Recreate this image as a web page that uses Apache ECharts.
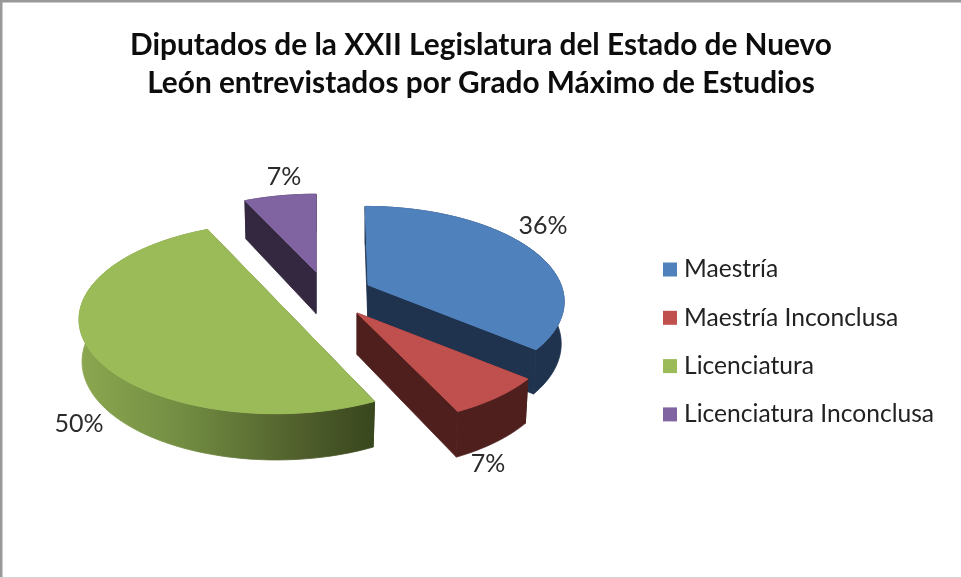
<!DOCTYPE html>
<html>
<head>
<meta charset="utf-8">
<script src="https://cdn.jsdelivr.net/npm/echarts@6/dist/echarts.min.js"></script>
<style>html,body{margin:0;padding:0;background:#fff}#c{width:961px;height:578px}</style>
</head>
<body>
<div id="c"></div>
<script>
const categories = ['Maestría', 'Maestría Inconclusa', 'Licenciatura', 'Licenciatura Inconclusa'];
const values = [36, 7, 50, 7];
const titleLines = ['Diputados de la XXII Legislatura del Estado de Nuevo', 'León entrevistados por Grado Máximo de Estudios'];

const topColors = ['#4F81BD', '#C0504D', '#9BBB59', '#8064A2'];
const wallColors = ['#1F334F', '#4E1F1D', null, '#33283F'];
const apexes = [[368, 285], [357, 313], [279, 303], [316, 272]];
const scales = [0.98, 1, 1, 0.97];
const labelAt = [[543, 226], [488, 464], [79, 424], [284, 177]];

const A = 197, B = 93, P = 0.16, D = 41.5, VX = 316, K = 0.4;
const total = values.reduce((a, b) => a + b, 0);

function project(ax, ay, t, s) {
  const X = Math.sin(t), Z = Math.cos(t), w = 1 / (1 + P * Z);
  return { x: ax + s * A * X * w + (ax - VX) * (w - 1) * K, y: ay - s * B * Z * w, w };
}
function lower(p, ax, ay) {
  return [ax + (p.x - ax) * 0.985, p.y + D * (1 + (p.w - 1) * 0.6)];
}
function sliceRenderer(idx) {
  return function (params, api) {
    const v = api.value(0);
    let before = 0;
    for (let i = 0; i < idx; i++) before += values[i];
    const t0 = before / total * Math.PI * 2, t1 = t0 + v / total * Math.PI * 2;
    const [ax, ay] = apexes[idx];
    const rim = [];
    const n = 80;
    for (let i = 0; i <= n; i++) rim.push(project(ax, ay, t0 + (t1 - t0) * i / n, scales[idx]));
    const topPts = [[ax, ay]].concat(rim.map(p => [p.x, p.y]));
    const apexLow = [ax, ay + D];
    const wallFill = wallColors[idx] || {
      type: 'linear', global: true, x: 80, y: 0, x2: 373, y2: 0,
      colorStops: [
        { offset: 0, color: '#8BA74F' },
        { offset: 0.35, color: '#728D42' },
        { offset: 0.75, color: '#505F2C' },
        { offset: 1, color: '#39471E' }
      ]
    };
    const children = [];
    const wall = pts => children.push({ type: 'polygon', shape: { points: pts }, style: { fill: wallFill, stroke: wallFill, lineWidth: 0.8 } });
    const first = rim[0], last = rim[rim.length - 1];
    wall([[first.x, first.y], [ax, ay], apexLow, lower(first, ax, ay)]);
    wall(rim.map(p => [p.x, p.y]).concat(rim.slice().reverse().map(p => lower(p, ax, ay))));
    wall([[last.x, last.y], [ax, ay], apexLow, lower(last, ax, ay)]);
    children.push({ type: 'polygon', shape: { points: topPts }, style: { fill: topColors[idx], stroke: topColors[idx], lineWidth: 1 } });
    children.push({
      type: 'text',
      style: {
        text: v + '%', x: labelAt[idx][0], y: labelAt[idx][1], align: 'center', verticalAlign: 'middle',
        fill: '#2b2b2b', font: '25px Lato'
      }
    });
    return { type: 'group', children };
  };
}

const chart = echarts.init(document.getElementById('c'), null, { renderer: 'canvas' });
chart.setOption({
  animation: false,
  backgroundColor: '#ffffff',
  title: {
    text: titleLines.join('\n'),
    left: 476,
    top: 21,
    textAlign: 'center',
    textStyle: { fontFamily: 'Lato', fontWeight: 'bold', fontSize: 29.8, lineHeight: 38, color: '#0d0d0d' }
  },
  legend: {
    orient: 'vertical',
    left: 658,
    top: 252,
    itemWidth: 14,
    itemHeight: 14,
    itemGap: 23.3,
    icon: 'rect',
    data: categories,
    textStyle: { fontFamily: 'Lato', fontSize: 24.6, color: '#222', padding: [0, 0, 0, 2], lineHeight: 25 }
  },
  graphic: [
    { type: 'rect', silent: true, shape: { x: 0, y: 0, width: 961, height: 2.5 }, style: { fill: '#999999' } },
    { type: 'rect', silent: true, shape: { x: 0, y: 0, width: 2.5, height: 578 }, style: { fill: '#999999' } },
    { type: 'rect', silent: true, shape: { x: 0, y: 577, width: 961, height: 1 }, style: { fill: '#d4d4d4' } }
  ],
  series: categories.map((name, i) => ({
    type: 'custom',
    name,
    coordinateSystem: 'none',
    silent: true,
    itemStyle: { color: topColors[i] },
    renderItem: sliceRenderer(i),
    data: [[values[i]]]
  }))
});
</script>
</body>
</html>
